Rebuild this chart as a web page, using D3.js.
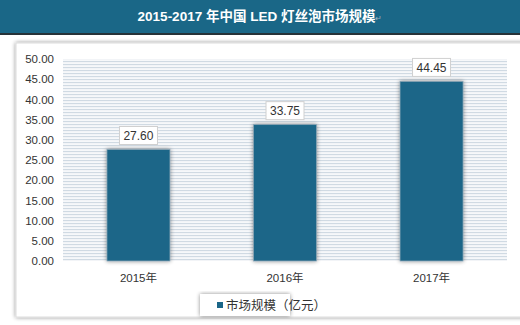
<!DOCTYPE html>
<head>
<meta charset="utf-8">
<style>
body { margin: 0; background: #fff; }
text { font-family: "Liberation Sans", "Noto Sans CJK SC", sans-serif; }
.tick text { font-size: 11.5px; fill: #333; }
</style>
</head>
<body>
<script src="https://cdn.jsdelivr.net/npm/d3@7"></script>
<script>
var title = "2015-2017 年中国 LED 灯丝泡市场规模";
var years = ["2015年", "2016年", "2017年"];
var market = [27.60, 33.75, 44.45];
var yTicks = [0, 5, 10, 15, 20, 25, 30, 35, 40, 45, 50];
var seriesName = "市场规模（亿元）";

var width = 520, height = 325;
var svg = d3.select("body").append("svg")
    .attr("width", width)
    .attr("height", height);

var defs = svg.append("defs");
var pat = defs.append("pattern")
    .attr("id", "stripes")
    .attr("width", 6).attr("height", 3)
    .attr("patternUnits", "userSpaceOnUse");
pat.append("rect").attr("width", 6).attr("height", 3).attr("fill", "#f6f8fa");
pat.append("rect").attr("y", 1).attr("width", 6).attr("height", 1.1).attr("fill", "#d0dae3");

var blur = defs.append("filter").attr("id", "shadow")
    .attr("x", "-20%").attr("y", "-10%").attr("width", "140%").attr("height", "120%");
blur.append("feGaussianBlur").attr("in", "SourceAlpha").attr("stdDeviation", 2);
blur.append("feOffset").attr("dx", 0).attr("dy", 0).attr("result", "b");
blur.append("feComponentTransfer").append("feFuncA").attr("type", "linear").attr("slope", 0.45);
var merge = blur.append("feMerge");
merge.append("feMergeNode");
merge.append("feMergeNode").attr("in", "SourceGraphic");

// title bar
svg.append("rect").attr("x", 0).attr("y", 0).attr("width", width).attr("height", 34)
    .attr("fill", "#1a6787");
svg.append("rect").attr("x", 0).attr("y", 33).attr("width", width).attr("height", 2)
    .attr("fill", "#263238");
var t = svg.append("text")
    .attr("x", 260).attr("y", 21)
    .attr("text-anchor", "middle")
    .attr("fill", "#fff")
    .attr("font-size", 13.5)
    .attr("font-weight", "bold")
    .text(title);
t.append("tspan").attr("fill", "#9fb3bf").attr("font-size", 8).attr("font-weight", "normal").text("↵");

// panel
svg.append("rect").attr("x", 16).attr("y", 43).attr("width", 520).attr("height", 274)
    .attr("fill", "#fff").attr("stroke", "#dcdcdc").attr("filter", "url(#shadow)");

var margin = {left: 63, right: 13, top: 59, bottom: 64};
var x = d3.scaleBand().domain(years).range([margin.left, width - margin.right]).paddingInner(0.57).paddingOuter(0.3);
var y = d3.scaleLinear().domain([0, 50]).range([height - margin.bottom, margin.top]);

svg.append("rect")
    .attr("x", margin.left).attr("y", y(50))
    .attr("width", width - margin.right - margin.left)
    .attr("height", y(0) - y(50))
    .attr("fill", "url(#stripes)");

svg.append("g")
    .attr("transform", "translate(" + (margin.left - 6) + ",0)")
    .call(d3.axisLeft(y).tickValues(yTicks).tickFormat(d3.format(".2f")).tickSize(0))
    .call(function(g) { g.select(".domain").remove(); });

svg.append("g")
    .attr("transform", "translate(0," + (y(0) + 10) + ")")
    .call(d3.axisBottom(x).tickSize(0))
    .call(function(g) { g.select(".domain").remove(); });

var bars = svg.append("g").selectAll("g")
    .data(market)
    .enter().append("g");

bars.append("rect")
    .attr("x", function(d, i) { return x(years[i]); })
    .attr("y", function(d) { return y(d); })
    .attr("width", x.bandwidth())
    .attr("height", function(d) { return y(0) - y(d); })
    .attr("fill", "#1a6688")
    .attr("stroke", "#8aa4b4")
    .attr("stroke-width", 0.8)
    .attr("filter", "url(#shadow)");

bars.append("rect")
    .attr("x", function(d, i) { return x(years[i]) + x.bandwidth() / 2 - 19; })
    .attr("y", function(d) { return y(d) - 23; })
    .attr("width", 38).attr("height", 18)
    .attr("fill", "#fff").attr("stroke", "#d0d0d0");

bars.append("text")
    .attr("x", function(d, i) { return x(years[i]) + x.bandwidth() / 2; })
    .attr("y", function(d) { return y(d) - 9.5; })
    .attr("text-anchor", "middle")
    .attr("font-size", 12)
    .attr("fill", "#333")
    .text(function(d) { return d.toFixed(2); });

// legend
var lg = svg.append("g");
lg.append("rect").attr("x", 200).attr("y", 294).attr("width", 90).attr("height", 22)
    .attr("fill", "#fff").attr("filter", "url(#shadow)");
lg.append("rect").attr("x", 217).attr("y", 302).attr("width", 6).attr("height", 6).attr("fill", "#1a6688");
lg.append("text").attr("x", 226).attr("y", 309.5).attr("font-size", 12.5).attr("fill", "#333").text(seriesName);
</script>
</body>
</html>
